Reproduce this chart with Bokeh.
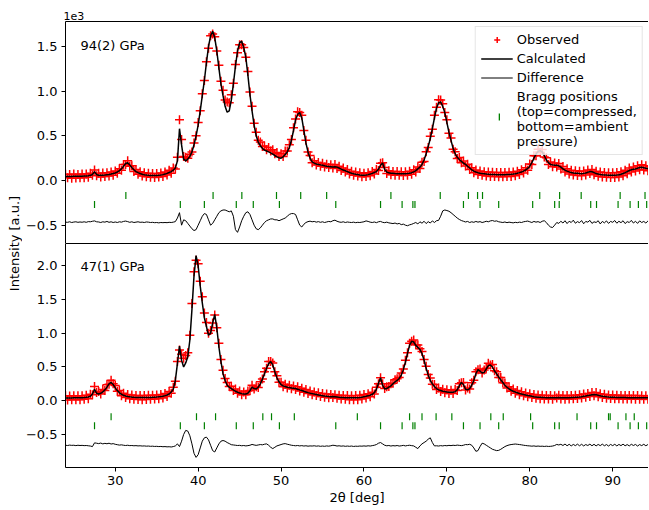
import numpy as np
from bokeh.plotting import figure
from bokeh.layouts import row, column
from bokeh.models import (ColumnDataSource, Range1d, FixedTicker, Legend, LegendItem,
                          Label, LinearAxis, CustomJSTickFormatter)
from bokeh.embed import file_html
from bokeh.resources import INLINE

# ---------------- data (intensities in units of 1e3) ----------------
TWO_THETA_START = 24.0
TWO_THETA_STEP = 0.25

obs_94 = [
    0.070, 0.030, 0.068, 0.024, 0.072, 0.028, 0.066, 0.030,
    0.072, 0.030, 0.074, 0.036, 0.080, 0.060, 0.118, 0.052,
    0.080, 0.040, 0.084, 0.044, 0.088, 0.050, 0.094, 0.060,
    0.106, 0.080, 0.132, 0.116, 0.180, 0.178, 0.220, 0.160,
    0.166, 0.102, 0.122, 0.070, 0.098, 0.050, 0.086, 0.042,
    0.080, 0.036, 0.078, 0.034, 0.078, 0.040, 0.084, 0.046,
    0.096, 0.062, 0.114, 0.082, 0.140, 0.130, 0.260, 0.680,
    0.460, 0.270, 0.260, 0.250, 0.295, 0.320, 0.420, 0.500,
    0.650, 0.780, 0.970, 1.120, 1.330, 1.480, 1.620, 1.640,
    1.610, 1.450, 1.290, 1.110, 1.010, 0.900, 0.880, 0.870,
    0.960, 1.090, 1.300, 1.430, 1.520, 1.520, 1.490, 1.380,
    1.220, 0.990, 0.830, 0.640, 0.540, 0.450, 0.430, 0.380,
    0.385, 0.345, 0.370, 0.330, 0.345, 0.300, 0.315, 0.270,
    0.300, 0.270, 0.330, 0.330, 0.400, 0.460, 0.590, 0.690,
    0.770, 0.760, 0.730, 0.560, 0.450, 0.320, 0.280, 0.200,
    0.220, 0.175, 0.202, 0.160, 0.192, 0.150, 0.182, 0.146,
    0.176, 0.140, 0.178, 0.134, 0.160, 0.112, 0.140, 0.094,
    0.122, 0.074, 0.104, 0.058, 0.094, 0.050, 0.086, 0.042,
    0.082, 0.044, 0.088, 0.054, 0.102, 0.072, 0.122, 0.112,
    0.192, 0.200, 0.146, 0.078, 0.108, 0.064, 0.102, 0.060,
    0.100, 0.058, 0.098, 0.056, 0.098, 0.060, 0.104, 0.070,
    0.120, 0.094, 0.152, 0.134, 0.204, 0.214, 0.322, 0.370,
    0.495, 0.575, 0.730, 0.820, 0.905, 0.900, 0.860, 0.760,
    0.680, 0.530, 0.475, 0.350, 0.322, 0.246, 0.258, 0.198,
    0.218, 0.162, 0.182, 0.122, 0.142, 0.086, 0.118, 0.068,
    0.106, 0.058, 0.098, 0.050, 0.094, 0.046, 0.092, 0.044,
    0.090, 0.042, 0.090, 0.042, 0.090, 0.044, 0.092, 0.046,
    0.096, 0.054, 0.104, 0.066, 0.120, 0.084, 0.142, 0.116,
    0.186, 0.180, 0.276, 0.276, 0.350, 0.316, 0.346, 0.262,
    0.256, 0.180, 0.206, 0.154, 0.196, 0.152, 0.190, 0.128,
    0.156, 0.094, 0.132, 0.074, 0.116, 0.062, 0.108, 0.056,
    0.104, 0.054, 0.106, 0.062, 0.118, 0.078, 0.124, 0.064,
    0.104, 0.048, 0.094, 0.040, 0.090, 0.036, 0.088, 0.034,
    0.088, 0.034, 0.090, 0.040, 0.098, 0.054, 0.116, 0.076,
    0.140, 0.096, 0.152, 0.106, 0.164, 0.120, 0.176, 0.118,
    0.166, 0.108, 0.158,
]

calc_94 = [
    0.045, 0.045, 0.046, 0.046, 0.047, 0.047, 0.048, 0.048,
    0.049, 0.050, 0.051, 0.053, 0.058, 0.068, 0.100, 0.068,
    0.058, 0.058, 0.060, 0.062, 0.065, 0.068, 0.072, 0.078,
    0.085, 0.095, 0.110, 0.130, 0.160, 0.190, 0.200, 0.175,
    0.145, 0.120, 0.100, 0.088, 0.078, 0.070, 0.065, 0.061,
    0.058, 0.056, 0.055, 0.055, 0.056, 0.058, 0.061, 0.066,
    0.072, 0.080, 0.090, 0.100, 0.115, 0.140, 0.220, 0.580,
    0.400, 0.240, 0.220, 0.240, 0.270, 0.320, 0.400, 0.500,
    0.620, 0.780, 0.950, 1.120, 1.320, 1.500, 1.620, 1.670,
    1.600, 1.450, 1.260, 1.080, 0.950, 0.830, 0.765, 0.780,
    0.900, 1.080, 1.280, 1.450, 1.540, 1.560, 1.490, 1.380,
    1.180, 0.960, 0.780, 0.620, 0.500, 0.430, 0.390, 0.360,
    0.340, 0.330, 0.320, 0.310, 0.295, 0.280, 0.265, 0.255,
    0.250, 0.265, 0.290, 0.320, 0.370, 0.450, 0.560, 0.680,
    0.740, 0.760, 0.700, 0.560, 0.420, 0.320, 0.250, 0.210,
    0.195, 0.185, 0.180, 0.175, 0.170, 0.165, 0.160, 0.158,
    0.155, 0.152, 0.155, 0.150, 0.140, 0.128, 0.118, 0.110,
    0.100, 0.090, 0.082, 0.076, 0.071, 0.067, 0.063, 0.060,
    0.060, 0.062, 0.066, 0.072, 0.080, 0.090, 0.100, 0.125,
    0.170, 0.195, 0.125, 0.095, 0.086, 0.082, 0.080, 0.078,
    0.077, 0.076, 0.075, 0.075, 0.076, 0.078, 0.082, 0.088,
    0.097, 0.110, 0.130, 0.150, 0.180, 0.230, 0.300, 0.380,
    0.470, 0.580, 0.700, 0.810, 0.870, 0.880, 0.830, 0.760,
    0.650, 0.540, 0.450, 0.360, 0.300, 0.260, 0.235, 0.215,
    0.195, 0.180, 0.160, 0.140, 0.120, 0.105, 0.095, 0.088,
    0.082, 0.078, 0.075, 0.072, 0.070, 0.068, 0.067, 0.066,
    0.065, 0.065, 0.065, 0.065, 0.065, 0.066, 0.067, 0.069,
    0.072, 0.076, 0.081, 0.088, 0.096, 0.105, 0.118, 0.135,
    0.160, 0.200, 0.250, 0.295, 0.325, 0.335, 0.320, 0.280,
    0.230, 0.200, 0.180, 0.175, 0.170, 0.172, 0.165, 0.150,
    0.130, 0.115, 0.105, 0.097, 0.090, 0.085, 0.082, 0.080,
    0.078, 0.077, 0.080, 0.085, 0.092, 0.100, 0.098, 0.088,
    0.078, 0.072, 0.068, 0.065, 0.063, 0.061, 0.060, 0.060,
    0.060, 0.060, 0.062, 0.065, 0.070, 0.078, 0.088, 0.100,
    0.112, 0.120, 0.125, 0.130, 0.137, 0.145, 0.148, 0.143,
    0.138, 0.133, 0.130,
]

diff_94 = [
    -0.466, -0.468, -0.462, -0.470, -0.465, -0.462, -0.468, -0.464,
    -0.467, -0.462, -0.468, -0.460, -0.462, -0.456, -0.452, -0.462,
    -0.464, -0.470, -0.462, -0.466, -0.458, -0.468, -0.462, -0.470,
    -0.464, -0.470, -0.462, -0.466, -0.458, -0.454, -0.460, -0.468,
    -0.462, -0.470, -0.466, -0.462, -0.468, -0.466, -0.470, -0.464,
    -0.466, -0.470, -0.468, -0.472, -0.470, -0.474, -0.470, -0.472,
    -0.470, -0.472, -0.468, -0.470, -0.466, -0.460, -0.420, -0.360,
    -0.500, -0.440, -0.450, -0.480, -0.510, -0.540, -0.560, -0.550,
    -0.500, -0.450, -0.400, -0.370, -0.380, -0.440, -0.500, -0.480,
    -0.440, -0.400, -0.360, -0.340, -0.330, -0.330, -0.340, -0.350,
    -0.340, -0.400, -0.550, -0.580, -0.520, -0.450, -0.400, -0.360,
    -0.350, -0.380, -0.440, -0.500, -0.540, -0.550, -0.530, -0.500,
    -0.470, -0.450, -0.440, -0.430, -0.430, -0.440, -0.440, -0.450,
    -0.440, -0.430, -0.420, -0.400, -0.380, -0.370, -0.370, -0.380,
    -0.440, -0.500, -0.520, -0.490, -0.470, -0.460, -0.455, -0.462,
    -0.458, -0.466, -0.460, -0.468, -0.462, -0.470, -0.464, -0.458,
    -0.462, -0.450, -0.444, -0.456, -0.464, -0.468, -0.462, -0.470,
    -0.464, -0.468, -0.470, -0.466, -0.472, -0.468, -0.470, -0.466,
    -0.462, -0.452, -0.458, -0.466, -0.470, -0.464, -0.472, -0.462,
    -0.458, -0.468, -0.472, -0.466, -0.474, -0.478, -0.482, -0.476,
    -0.486, -0.480, -0.494, -0.488, -0.500, -0.506, -0.496, -0.490,
    -0.480, -0.470, -0.486, -0.462, -0.478, -0.456, -0.482, -0.460,
    -0.476, -0.452, -0.470, -0.450, -0.446, -0.400, -0.340, -0.330,
    -0.336, -0.344, -0.360, -0.380, -0.400, -0.420, -0.436, -0.448,
    -0.456, -0.464, -0.458, -0.470, -0.462, -0.468, -0.458, -0.466,
    -0.460, -0.470, -0.464, -0.456, -0.462, -0.452, -0.448, -0.456,
    -0.452, -0.462, -0.466, -0.470, -0.464, -0.472, -0.466, -0.470,
    -0.474, -0.468, -0.472, -0.466, -0.470, -0.462, -0.458, -0.454,
    -0.462, -0.470, -0.458, -0.466, -0.460, -0.470, -0.456, -0.450,
    -0.470, -0.500, -0.520, -0.526, -0.500, -0.470, -0.480, -0.456,
    -0.476, -0.450, -0.482, -0.456, -0.470, -0.444, -0.478, -0.460,
    -0.472, -0.448, -0.484, -0.458, -0.466, -0.446, -0.480, -0.462,
    -0.470, -0.450, -0.486, -0.458, -0.474, -0.452, -0.480, -0.458,
    -0.468, -0.448, -0.478, -0.456, -0.472, -0.450, -0.482, -0.460,
    -0.470, -0.446, -0.476, -0.456, -0.480, -0.452, -0.470, -0.458,
    -0.476, -0.454, -0.468,
]

obs_47 = [
    0.072, 0.012, 0.070, 0.014, 0.074, 0.014, 0.072, 0.016,
    0.074, 0.020, 0.080, 0.030, 0.094, 0.090, 0.210, 0.120,
    0.135, 0.100, 0.165, 0.150, 0.235, 0.245, 0.305, 0.250,
    0.225, 0.140, 0.150, 0.072, 0.110, 0.046, 0.092, 0.030,
    0.084, 0.022, 0.078, 0.018, 0.076, 0.016, 0.076, 0.018,
    0.080, 0.020, 0.082, 0.024, 0.086, 0.030, 0.092, 0.040,
    0.108, 0.062, 0.135, 0.110, 0.200, 0.290, 0.580, 0.750,
    0.690, 0.630, 0.670, 0.710, 0.970, 1.440, 1.910, 2.080,
    2.030, 1.770, 1.540, 1.300, 1.160, 1.000, 1.040, 1.150,
    1.270, 1.080, 0.850, 0.610, 0.450, 0.330, 0.270, 0.210,
    0.215, 0.150, 0.172, 0.112, 0.145, 0.090, 0.130, 0.088,
    0.145, 0.150, 0.230, 0.172, 0.205, 0.195, 0.280, 0.320,
    0.430, 0.480, 0.580, 0.580, 0.560, 0.430, 0.370, 0.275,
    0.275, 0.205, 0.245, 0.188, 0.228, 0.178, 0.218, 0.166,
    0.205, 0.145, 0.185, 0.125, 0.165, 0.105, 0.145, 0.090,
    0.130, 0.076, 0.118, 0.062, 0.106, 0.052, 0.098, 0.044,
    0.092, 0.046, 0.090, 0.036, 0.082, 0.026, 0.078, 0.020,
    0.076, 0.014, 0.074, 0.014, 0.076, 0.016, 0.080, 0.024,
    0.092, 0.040, 0.104, 0.060, 0.126, 0.098, 0.200, 0.250,
    0.340, 0.250, 0.180, 0.205, 0.210, 0.250, 0.260, 0.310,
    0.325, 0.345, 0.410, 0.470, 0.600, 0.710, 0.850, 0.880,
    0.900, 0.830, 0.825, 0.770, 0.730, 0.610, 0.510, 0.390,
    0.335, 0.245, 0.240, 0.165, 0.190, 0.135, 0.170, 0.118,
    0.162, 0.108, 0.155, 0.108, 0.165, 0.150, 0.250, 0.265,
    0.270, 0.160, 0.190, 0.175, 0.265, 0.305, 0.430, 0.460,
    0.470, 0.410, 0.455, 0.480, 0.555, 0.530, 0.535, 0.445,
    0.430, 0.345, 0.345, 0.265, 0.262, 0.190, 0.205, 0.140,
    0.172, 0.110, 0.150, 0.090, 0.132, 0.074, 0.116, 0.058,
    0.104, 0.046, 0.092, 0.036, 0.084, 0.030, 0.080, 0.026,
    0.078, 0.024, 0.076, 0.022, 0.074, 0.040, 0.080, 0.024,
    0.076, 0.022, 0.076, 0.024, 0.078, 0.028, 0.082, 0.032,
    0.088, 0.040, 0.098, 0.050, 0.108, 0.062, 0.120, 0.072,
    0.122, 0.060, 0.104, 0.046, 0.094, 0.038, 0.086, 0.032,
    0.084, 0.030, 0.080, 0.028, 0.078, 0.026, 0.078, 0.024,
    0.076, 0.024, 0.076, 0.022, 0.076, 0.022, 0.074, 0.022,
    0.074, 0.022, 0.074,
]

calc_47 = [
    0.040, 0.040, 0.041, 0.041, 0.042, 0.042, 0.043, 0.044,
    0.045, 0.047, 0.050, 0.055, 0.065, 0.100, 0.170, 0.110,
    0.100, 0.110, 0.130, 0.160, 0.200, 0.250, 0.270, 0.240,
    0.190, 0.150, 0.120, 0.095, 0.080, 0.070, 0.062, 0.057,
    0.053, 0.050, 0.048, 0.047, 0.046, 0.046, 0.046, 0.047,
    0.048, 0.049, 0.050, 0.052, 0.054, 0.057, 0.061, 0.066,
    0.075, 0.085, 0.100, 0.130, 0.170, 0.300, 0.550, 0.810,
    0.600, 0.500, 0.560, 0.650, 0.900, 1.350, 1.850, 2.150,
    2.000, 1.700, 1.450, 1.230, 1.100, 0.970, 1.000, 1.150,
    1.280, 1.080, 0.800, 0.580, 0.400, 0.300, 0.230, 0.200,
    0.180, 0.160, 0.140, 0.125, 0.115, 0.105, 0.100, 0.100,
    0.110, 0.150, 0.200, 0.180, 0.175, 0.200, 0.250, 0.320,
    0.400, 0.480, 0.550, 0.580, 0.530, 0.430, 0.340, 0.280,
    0.240, 0.220, 0.210, 0.200, 0.195, 0.190, 0.185, 0.180,
    0.170, 0.160, 0.150, 0.140, 0.130, 0.120, 0.112, 0.105,
    0.098, 0.092, 0.086, 0.080, 0.075, 0.070, 0.066, 0.062,
    0.060, 0.062, 0.058, 0.054, 0.050, 0.048, 0.046, 0.045,
    0.044, 0.043, 0.043, 0.043, 0.044, 0.045, 0.047, 0.050,
    0.060, 0.065, 0.072, 0.082, 0.095, 0.120, 0.170, 0.260,
    0.340, 0.230, 0.175, 0.180, 0.200, 0.220, 0.250, 0.280,
    0.300, 0.330, 0.380, 0.460, 0.570, 0.700, 0.820, 0.880,
    0.870, 0.820, 0.790, 0.760, 0.700, 0.600, 0.480, 0.380,
    0.300, 0.250, 0.210, 0.180, 0.160, 0.150, 0.140, 0.135,
    0.130, 0.125, 0.125, 0.125, 0.135, 0.160, 0.220, 0.270,
    0.240, 0.170, 0.160, 0.180, 0.230, 0.300, 0.400, 0.460,
    0.440, 0.410, 0.420, 0.470, 0.520, 0.530, 0.500, 0.440,
    0.400, 0.350, 0.310, 0.270, 0.230, 0.200, 0.175, 0.155,
    0.140, 0.128, 0.118, 0.108, 0.100, 0.092, 0.085, 0.078,
    0.072, 0.066, 0.060, 0.056, 0.052, 0.050, 0.048, 0.046,
    0.045, 0.044, 0.043, 0.042, 0.042, 0.045, 0.048, 0.044,
    0.043, 0.043, 0.044, 0.045, 0.046, 0.048, 0.050, 0.053,
    0.056, 0.060, 0.065, 0.070, 0.076, 0.082, 0.088, 0.092,
    0.090, 0.080, 0.072, 0.066, 0.062, 0.058, 0.055, 0.053,
    0.052, 0.050, 0.049, 0.048, 0.047, 0.046, 0.046, 0.045,
    0.045, 0.045, 0.044, 0.044, 0.044, 0.043, 0.043, 0.043,
    0.043, 0.043, 0.043,
]

diff_47 = [
    -0.660, -0.664, -0.658, -0.662, -0.660, -0.666, -0.660, -0.664,
    -0.662, -0.666, -0.664, -0.668, -0.672, -0.680, -0.625, -0.630,
    -0.636, -0.628, -0.640, -0.632, -0.638, -0.630, -0.642, -0.636,
    -0.646, -0.652, -0.658, -0.654, -0.660, -0.664, -0.660, -0.666,
    -0.664, -0.668, -0.666, -0.670, -0.668, -0.672, -0.670, -0.674,
    -0.672, -0.676, -0.674, -0.678, -0.676, -0.680, -0.678, -0.682,
    -0.680, -0.684, -0.682, -0.686, -0.680, -0.670, -0.640, -0.680,
    -0.600, -0.500, -0.440, -0.450, -0.520, -0.640, -0.780, -0.840,
    -0.800, -0.700, -0.600, -0.550, -0.540, -0.580, -0.660, -0.740,
    -0.760, -0.700, -0.640, -0.600, -0.590, -0.600, -0.620, -0.635,
    -0.652, -0.656, -0.660, -0.664, -0.662, -0.668, -0.664, -0.670,
    -0.666, -0.660, -0.648, -0.656, -0.662, -0.656, -0.650, -0.654,
    -0.645, -0.640, -0.660, -0.690, -0.710, -0.690, -0.670, -0.660,
    -0.650, -0.640, -0.636, -0.645, -0.652, -0.660, -0.664, -0.668,
    -0.664, -0.670, -0.666, -0.672, -0.668, -0.674, -0.670, -0.672,
    -0.668, -0.674, -0.670, -0.676, -0.672, -0.676, -0.670, -0.674,
    -0.668, -0.660, -0.664, -0.672, -0.668, -0.674, -0.670, -0.676,
    -0.672, -0.676, -0.672, -0.678, -0.674, -0.676, -0.672, -0.674,
    -0.670, -0.674, -0.668, -0.672, -0.666, -0.660, -0.650, -0.630,
    -0.620, -0.640, -0.660, -0.668, -0.664, -0.672, -0.666, -0.670,
    -0.664, -0.672, -0.668, -0.662, -0.670, -0.664, -0.660, -0.666,
    -0.670, -0.690, -0.710, -0.670, -0.640, -0.620, -0.600, -0.570,
    -0.550, -0.620, -0.670, -0.668, -0.672, -0.666, -0.670, -0.664,
    -0.668, -0.662, -0.666, -0.660, -0.664, -0.658, -0.662, -0.666,
    -0.660, -0.650, -0.652, -0.646, -0.660, -0.700, -0.750, -0.740,
    -0.680, -0.630, -0.640, -0.660, -0.680, -0.700, -0.720, -0.730,
    -0.740, -0.736, -0.720, -0.700, -0.680, -0.666, -0.656, -0.650,
    -0.646, -0.642, -0.646, -0.650, -0.654, -0.660, -0.664, -0.668,
    -0.670, -0.674, -0.670, -0.676, -0.672, -0.676, -0.674, -0.678,
    -0.674, -0.678, -0.676, -0.672, -0.664, -0.648, -0.656, -0.646,
    -0.664, -0.642, -0.668, -0.646, -0.670, -0.648, -0.666, -0.644,
    -0.668, -0.646, -0.670, -0.650, -0.664, -0.644, -0.668, -0.646,
    -0.670, -0.648, -0.666, -0.644, -0.668, -0.650, -0.672, -0.648,
    -0.666, -0.646, -0.670, -0.648, -0.666, -0.644, -0.668, -0.650,
    -0.670, -0.646, -0.664, -0.648, -0.672, -0.650, -0.666, -0.646,
    -0.668, -0.650, -0.664,
]

bragg_compressed_94 = [31.28, 41.8, 45.27, 49.45, 52.37, 55.5, 63.25, 69.2, 72.6,
                       73.7, 74.3, 81.2, 83.6, 86.2, 90.9, 93.9]
bragg_compressed_47 = [29.5, 39.8, 42.1, 47.8, 48.85, 51.6, 59.2, 65.5, 67.0, 68.7,
                       70.6, 75.3, 76.8, 80.1, 85.7, 89.5, 89.7, 91.6, 92.6]
bragg_ambient = [27.5, 37.85, 40.75, 44.6, 46.65, 49.8, 56.6, 62.0, 64.6, 65.9, 66.15,
                 72.0, 74.0, 76.25, 80.35, 83.0, 83.55, 87.35, 88.05, 90.65, 92.1,
                 93.1, 94.1]

pressure_labels = ["94(2) GPa", "47(1) GPa"]
x_ticks = [30, 40, 50, 60, 70, 80, 90]
y_ticks_94 = [-0.5, 0.0, 0.5, 1.0, 1.5]
y_ticks_47 = [-0.5, 0.0, 0.5, 1.0, 1.5, 2.0]

for arr in (obs_94, calc_94, diff_94, obs_47, calc_47, diff_47):
    assert len(arr) == 283, len(arr)

# ---------------- styling ----------------
FONT = "DejaVu Sans"
FS = "13px"
GREEN = "#008000"


def angles(values):
    return TWO_THETA_START + TWO_THETA_STEP * np.arange(len(values))


x_range = Range1d(24.0, 94.32)

fmt = CustomJSTickFormatter(
    code="return (tick < 0 ? '\\u2212' : '') + Math.abs(tick).toFixed(1);")


def spine_axis():
    return LinearAxis(ticker=FixedTicker(ticks=[]), major_tick_in=0, major_tick_out=0,
                      minor_tick_in=0, minor_tick_out=0, major_label_standoff=0,
                      major_label_text_font_size="0px", axis_line_color="black",
                      axis_line_width=1)


def style_yaxis(p, ticks):
    ax = p.left[0]
    ax.ticker = FixedTicker(ticks=ticks)
    ax.formatter = fmt
    ax.major_tick_in = 0
    ax.major_tick_out = 4
    ax.minor_tick_line_color = None
    ax.axis_line_color = "black"
    ax.major_tick_line_color = "black"
    ax.major_label_text_font = FONT
    ax.major_label_text_font_size = FS
    ax.major_label_text_color = "black"
    ax.major_label_standoff = 4


def make_panel(height, y_range, top, bottom):
    p = figure(width=626, height=height, x_range=x_range, y_range=y_range,
               toolbar_location=None, output_backend="svg",
               min_border_left=40, min_border_right=0,
               min_border_top=top, min_border_bottom=bottom,
               outline_line_color=None)
    p.grid.visible = False
    return p


def draw_panel(p, obs, calc, diff, compressed, y_comp, y_amb):
    src = ColumnDataSource(dict(x=angles(obs), obs=obs, calc=calc, diff=diff))
    r_obs = p.scatter("x", "obs", source=src, marker="cross", size=9,
                      line_color="#ff0000", line_width=1.5)
    r_calc = p.line("x", "calc", source=src, line_color="black", line_width=1.5)
    r_diff = p.line("x", "diff", source=src, line_color="black", line_width=1)
    comp_src = ColumnDataSource(dict(x=compressed, y=[y_comp] * len(compressed)))
    amb_src = ColumnDataSource(dict(x=bragg_ambient, y=[y_amb] * len(bragg_ambient)))
    p.rect("x", "y", source=comp_src, width=1.2, height=7, width_units="screen",
           height_units="screen", fill_color=GREEN, line_color=None)
    r_tick = p.rect("x", "y", source=amb_src, width=1.2, height=7, width_units="screen",
                    height_units="screen", fill_color=GREEN, line_color=None)
    # invisible twin, used only as the (empty) swatch of the multi-line legend row
    r_blank = p.scatter("x", "y", source=amb_src, marker="dash", size=7,
                        line_alpha=0, fill_alpha=0)
    return r_obs, r_calc, r_diff, r_tick, r_blank


# ---------------- top panel (94 GPa) ----------------
top = make_panel(243, Range1d(-0.705, 1.78), 21, 0)
top.below[0].visible = False
style_yaxis(top, y_ticks_94)
top.add_layout(spine_axis(), "above")
top.title.text = "1e3"
top.title.text_font = FONT
top.title.text_font_size = "11px"
top.title.text_font_style = "normal"
top.title.text_color = "black"
top.title.align = "left"
top.title.offset = -2
top.title.standoff = 4
r_obs, r_calc, r_diff, r_tick, r_blank = draw_panel(top, obs_94, calc_94, diff_94,
                                                    bragg_compressed_94, -0.168, -0.268)
top.add_layout(Label(x=25.8, y=1.51, text=pressure_labels[0], text_font=FONT,
                     text_font_size="13px", text_baseline="middle", text_color="black"))

legend = Legend(items=[
    LegendItem(label="Observed", renderers=[r_obs]),
    LegendItem(label="Calculated", renderers=[r_calc]),
    LegendItem(label="Difference", renderers=[r_diff]),
    LegendItem(label="Bragg positions\n(top=compressed,\nbottom=ambient\npressure)",
               renderers=[r_blank]),
], location="top_right")
legend.label_text_font = FONT
legend.label_text_font_size = FS
legend.label_text_color = "black"
legend.label_height = 15
legend.glyph_height = 15
legend.glyph_width = 32
legend.label_standoff = 4
legend.spacing = 4
legend.padding = 5
legend.margin = 5
legend.border_line_color = "#cccccc"
legend.border_line_width = 1
legend.background_fill_alpha = 0.8
legend.label_text_line_height = 1.15
top.add_layout(legend)

# vertical green swatch of the "Bragg positions" row
tick_legend = Legend(items=[LegendItem(label=" ", renderers=[r_tick])],
                     location=(433, 122))
tick_legend.glyph_width = 2
tick_legend.glyph_height = 9
tick_legend.label_height = 9
tick_legend.label_standoff = 0
tick_legend.label_text_font_size = "1px"
tick_legend.padding = 0
tick_legend.margin = 0
tick_legend.spacing = 0
tick_legend.border_line_color = None
tick_legend.background_fill_alpha = 0
top.add_layout(tick_legend)

# ---------------- bottom panel (47 GPa) ----------------
bot = make_panel(265, Range1d(-0.99, 2.33), 0, 41)
xa = bot.below[0]
style_yaxis(bot, y_ticks_47)
bot.add_layout(spine_axis(), "above")
draw_panel(bot, obs_47, calc_47, diff_47, bragg_compressed_47, -0.237, -0.37)
xa.ticker = FixedTicker(ticks=x_ticks)
xa.major_tick_in = 0
xa.major_tick_out = 4
xa.minor_tick_line_color = None
xa.axis_line_color = "black"
xa.major_tick_line_color = "black"
xa.major_label_text_font = FONT
xa.major_label_text_font_size = FS
xa.major_label_text_color = "black"
xa.major_label_standoff = 4
xa.axis_label = "2θ [deg]"
xa.axis_label_text_font = FONT
xa.axis_label_text_font_size = FS
xa.axis_label_text_font_style = "normal"
xa.axis_label_text_color = "black"
xa.axis_label_standoff = 2
bot.add_layout(Label(x=25.8, y=1.985, text=pressure_labels[1], text_font=FONT,
                     text_font_size="13px", text_baseline="middle", text_color="black"))

# ---------------- shared y title ----------------
ytitle = figure(width=22, height=508, x_range=Range1d(0, 22), y_range=Range1d(508, 0),
                toolbar_location=None, output_backend="svg", x_axis_type=None,
                y_axis_type=None, min_border=0, min_border_left=0, min_border_right=0,
                min_border_top=0, min_border_bottom=0, outline_line_color=None)
ytitle.add_layout(Label(x=14, y=243, text="Intensity [a.u.]", angle=np.pi / 2,
                        text_align="center", text_baseline="middle", text_font=FONT,
                        text_font_size=FS, text_color="black"))

layout = row(ytitle, column(top, bot))

with open("out.html", "w") as f:
    f.write(file_html(layout, INLINE))
